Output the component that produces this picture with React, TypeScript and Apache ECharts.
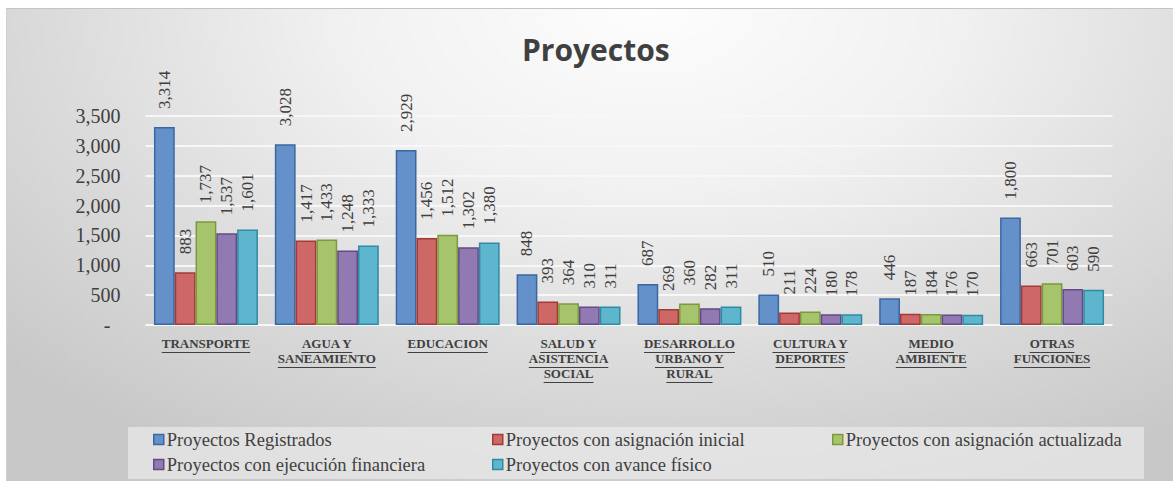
import React, { useEffect, useRef } from "react";
import * as echarts from "echarts";

const categories = [
  "TRANSPORTE",
  "AGUA Y\nSANEAMIENTO",
  "EDUCACION",
  "SALUD Y\nASISTENCIA\nSOCIAL",
  "DESARROLLO\nURBANO Y\nRURAL",
  "CULTURA Y\nDEPORTES",
  "MEDIO\nAMBIENTE",
  "OTRAS\nFUNCIONES",
];

const seriesNames = [
  "Proyectos Registrados",
  "Proyectos con asignación inicial",
  "Proyectos con asignación actualizada",
  "Proyectos con ejecución financiera",
  "Proyectos con avance físico",
];

const registrados = [3314, 3028, 2929, 848, 687, 510, 446, 1800];
const asignacionInicial = [883, 1417, 1456, 393, 269, 211, 187, 663];
const asignacionActualizada = [1737, 1433, 1512, 364, 360, 224, 184, 701];
const ejecucionFinanciera = [1537, 1248, 1302, 310, 282, 180, 176, 603];
const avanceFisico = [1601, 1333, 1380, 311, 311, 178, 170, 590];

const seriesValues = [
  registrados,
  asignacionInicial,
  asignacionActualizada,
  ejecucionFinanciera,
  avanceFisico,
];

const fills = ["#6591cb", "#cd6866", "#a6c46b", "#9179b1", "#5db6cd"];
const borders = ["#3b67a0", "#a23b38", "#7c9a3d", "#654a87", "#2f8aa3"];

const serif = "Liberation Serif";
const TXT = "#404040";

const W = 1167;
const H = 473;
const GRID = { left: 138.5, right: 60.5, top: 107, bottom: 156 };
const LABEL_MARGIN = 11;
const LINE_H = 15;

export default function App() {
  const ref = useRef<HTMLDivElement>(null);

  useEffect(() => {
    if (!ref.current) return;
    const chart = echarts.init(ref.current, null, { renderer: "svg" });

    const legendPos = [
      { left: 146, top: 421 },
      { left: 485, top: 421 },
      { left: 825, top: 421 },
      { left: 146, top: 446 },
      { left: 485, top: 446 },
    ];

    const option: any = {
      animation: false,
      title: {
        text: "Proyectos",
        left: 515,
        top: 25,
        padding: 0,
        textStyle: {
          fontFamily: "Open Sans",
          fontWeight: "bold",
          fontSize: 30,
          color: TXT,
        },
      },
      legend: seriesNames.map((n, i) => ({
        data: [n],
        left: legendPos[i].left,
        top: legendPos[i].top,
        padding: 0,
        itemWidth: 10,
        itemHeight: 10,
        itemGap: 0,
        icon: "rect",
        itemStyle: { borderColor: borders[i], borderWidth: 1.5 },
        textStyle: { fontFamily: serif, fontSize: 18.5, color: TXT, padding: [0, 0, 0, -2] },
        selectedMode: false,
      })),
      grid: { ...GRID, containLabel: false },
      xAxis: {
        type: "category",
        data: categories,
        axisTick: { show: false },
        axisLine: {
          lineStyle: {
            color: "#3a3a3a",
            width: 3,
            shadowColor: "#a9a9a9",
            shadowOffsetY: -4,
            shadowBlur: 0,
          },
        },
        axisLabel: {
          interval: 0,
          margin: LABEL_MARGIN,
          fontFamily: serif,
          fontWeight: "bold",
          fontSize: 13,
          lineHeight: LINE_H,
          color: TXT,
        },
      },
      yAxis: {
        type: "value",
        min: 0,
        max: 3500,
        interval: 500,
        axisLine: { show: false },
        axisTick: { show: false },
        splitLine: { lineStyle: { color: "#f7f7f7", width: 2 } },
        axisLabel: {
          margin: 25,
          fontFamily: serif,
          fontSize: 20,
          color: TXT,
          padding: [14, 0, 0, 0],
          formatter: (v: number) => (v === 0 ? "-  " : v.toLocaleString("en-US")),
        },
      },
      series: seriesNames.map((n, i) => ({
        name: n,
        type: "bar",
        data: seriesValues[i],
        barGap: "0%",
        barCategoryGap: "14%",
        itemStyle: {
          color: fills[i],
          borderColor: borders[i],
          borderWidth: 1.5,
        },
        label: {
          show: true,
          position: "top",
          rotate: 90,
          align: "left",
          verticalAlign: "middle",
          distance: 18,
          fontFamily: serif,
          fontSize: 17,
          color: TXT,
          formatter: (p: any) => Number(p.value).toLocaleString("en-US"),
        },
      })),
    };

    chart.setOption(option);

    const canvas = document.createElement("canvas");
    const ctx = canvas.getContext("2d")!;
    ctx.font = `bold 13px "${serif}"`;
    const baseY = H - GRID.bottom + LABEL_MARGIN;
    const graphics: any[] = [
      {
        type: "rect",
        z: -10,
        shape: { x: 121, y: 418, width: 1016, height: 52 },
        style: { fill: "rgba(236,236,236,0.65)" },
        silent: true,
      },
    ];
    categories.forEach((c, i) => {
      const cx = chart.convertToPixel({ xAxisIndex: 0 }, i) as number;
      c.split("\n").forEach((line, j) => {
        const w = ctx.measureText(line).width;
        const y = baseY + j * LINE_H + 15.5;
        graphics.push({
          type: "line",
          silent: true,
          shape: { x1: cx - w / 2, y1: y, x2: cx + w / 2, y2: y },
          style: { stroke: TXT, lineWidth: 1.2 },
        });
      });
    });
    chart.setOption({ graphic: graphics });

    return () => chart.dispose();
  }, []);

  return (
    <div
      ref={ref}
      style={{
        position: "absolute",
        left: 6,
        top: 8,
        width: W,
        height: H,
        boxSizing: "border-box",
        borderTop: "1px solid #c4c4c4",
        borderLeft: "1px solid #d0d0d0",
        background:
          "radial-gradient(ellipse 75% 110% at 55% 0%, #fdfdfd 0%, #f1f1f1 35%, #dadada 70%, #c8c8c8 100%)",
      }}
    />
  );
}
